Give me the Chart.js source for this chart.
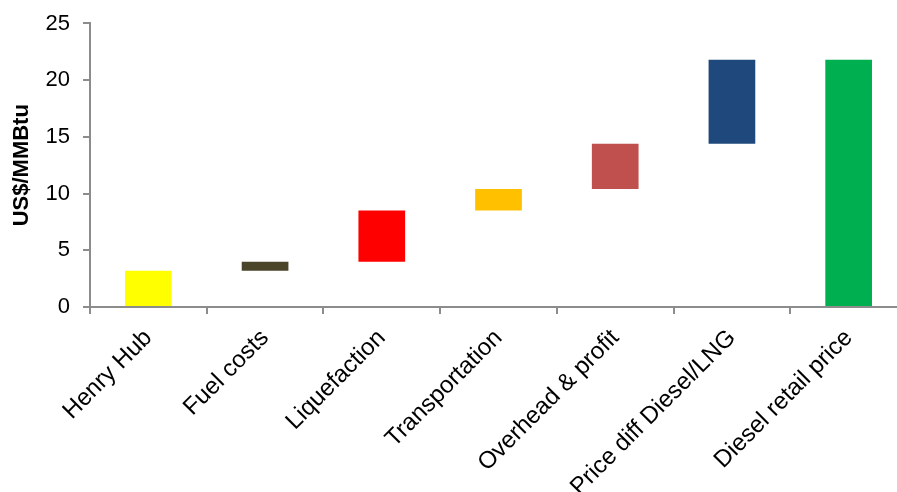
<!DOCTYPE html>
<html>
<head>
<meta charset="utf-8">
<script src="https://cdn.jsdelivr.net/npm/chart.js@4"></script>
<style>
  html, body { margin: 0; padding: 0; overflow: hidden; background: #fff; }
  #wrap { width: 907px; height: 492px; position: relative; }
</style>
</head>
<body>
<div id="wrap"><canvas id="chart"></canvas></div>
<script>
// ── Data ──────────────────────────────────────────────────────────────────────
const categories = ['Henry Hub', 'Fuel costs', 'Liquefaction', 'Transportation',
                    'Overhead & profit', 'Price diff Diesel/LNG', 'Diesel retail price'];
const barBottom  = [0,   3.2, 4.0, 8.5,  10.4, 14.4, 0];
const barTop     = [3.2, 4.0, 8.5, 10.4, 14.4, 21.8, 21.8];
const barColors  = ['#FFFF00', '#4A442A', '#FF0000', '#FFC000', '#C0504D', '#1F497D', '#00B050'];
const yTicks     = [0, 5, 10, 15, 20, 25];

// ── Chart ─────────────────────────────────────────────────────────────────────
const AXIS = '#8C8C8C';
const FONT = "'Liberation Sans', Arial, sans-serif";

new Chart(document.getElementById('chart'), {
  type: 'bar',
  data: {
    labels: categories,
    datasets: [{
      data: categories.map((c, i) => [barBottom[i], barTop[i]]),
      backgroundColor: barColors,
      borderWidth: 0,
      barPercentage: 0.4,
      categoryPercentage: 1
    }]
  },
  options: {
    responsive: true,
    maintainAspectRatio: false,
    animation: false,
    layout: { padding: { top: 0, right: 0, left: 0, bottom: 0 } },
    plugins: { legend: { display: false }, tooltip: { enabled: false } },
    scales: {
      x: {
        offset: true,
        grid: { display: true, drawOnChartArea: false, drawTicks: true, tickLength: 7, color: AXIS, lineWidth: 2, offset: true },
        border: { color: AXIS, width: 2 },
        ticks: { color: '#000', font: { family: FONT, size: 24 }, minRotation: 45, maxRotation: 45, padding: 10, autoSkip: false },
        afterFit: s => { s.height = 492 - 307; }
      },
      y: {
        min: 0, max: 25,
        afterBuildTicks: s => { s.ticks = yTicks.map(v => ({ value: v })); },
        grid: { display: true, drawOnChartArea: false, drawTicks: true, tickLength: 7, color: AXIS, lineWidth: 2 },
        border: { color: AXIS, width: 2 },
        ticks: { color: '#000', font: { family: FONT, size: 22, lineHeight: 0.95 }, padding: 13 },
        title: { display: true, text: 'US$/MMBtu', color: '#000', font: { family: FONT, size: 22, weight: 'bold' }, padding: { top: 9, bottom: 0 } },
        afterFit: s => { s.width = 90; }
      }
    }
  }
});
</script>
</body>
</html>
